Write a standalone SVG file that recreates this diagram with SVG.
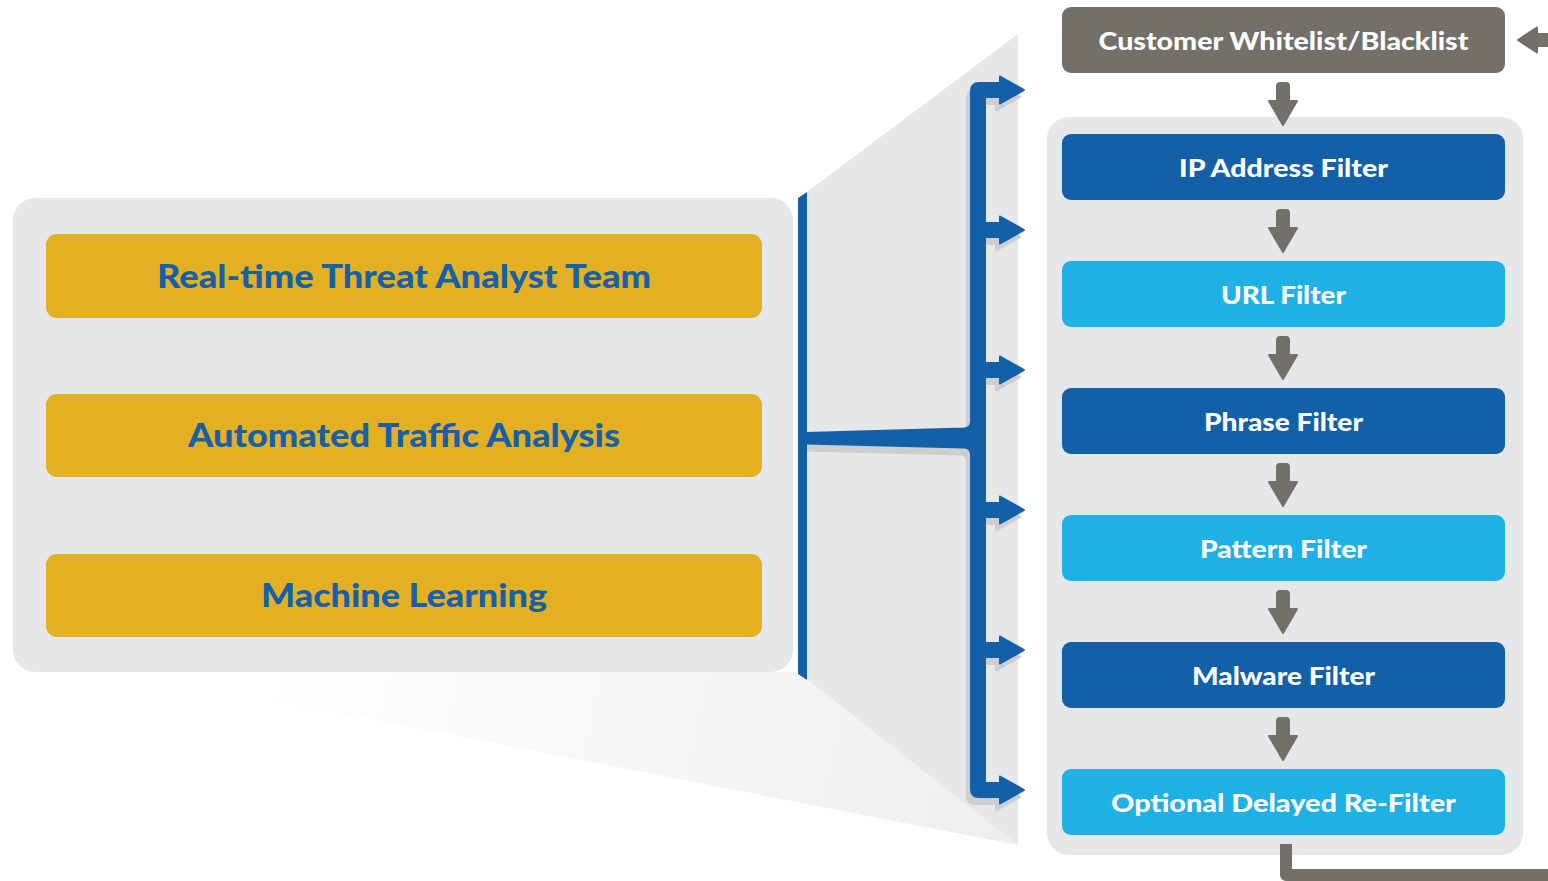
<svg xmlns="http://www.w3.org/2000/svg" xmlns:xlink="http://www.w3.org/1999/xlink" width="1548" height="881" viewBox="0 0 1548 881">
<style>
.panel{fill:#E6E7E9}
.gold{fill:#E4B023}
.dark{fill:#1360A9}
.light{fill:#1FB1E6}
.greybox{fill:#736F69}
.gtxt{font-family:Lato,"Open Sans","Liberation Sans",sans-serif;font-weight:900;font-size:32px;fill:#1560A9;text-anchor:middle}
.wtxt{font-family:Lato,"Open Sans","Liberation Sans",sans-serif;font-weight:900;font-size:25.5px;fill:#FFFFFF;text-anchor:middle}
.garrow{fill:#736F69;stroke:#736F69;stroke-width:2;stroke-linejoin:round}
</style>
<defs>
<linearGradient id="wedge" gradientUnits="userSpaceOnUse" x1="250" y1="672" x2="1018" y2="845">
<stop offset="0" stop-color="#FFFFFF"/>
<stop offset="1" stop-color="#EDEEEE"/>
</linearGradient>
<g id="bracketShape">
<path d="M979,83 H1001 V97 H985 V223 H1001 V237 H985 V363 H1001 V377 H985 V503 H1001 V517 H985 V643 H1001 V657 H985 V783 H1001 V797 H979 Q971,797 971,789 V91 Q971,83 979,83 Z"/>
<path d="M806,433 L964,428.5 Q971,428 971,421 L971,455 Q971,447.5 964,447.5 L806,443.5 Z"/>
<polygon points="1000,76.5 1024,90 1000,103.5"/>
<polygon points="1000,216.5 1024,230 1000,243.5"/>
<polygon points="1000,356.5 1024,370 1000,383.5"/>
<polygon points="1000,496.5 1024,510 1000,523.5"/>
<polygon points="1000,636.5 1024,650 1000,663.5"/>
<polygon points="1000,776.5 1024,790 1000,803.5"/>
</g>
<path id="downArrow" d="M1277,13 Q1277,10 1280,10 H1286 Q1289,10 1289,13 V28 H1297 L1283,52 L1269,28 H1277 Z"/>
</defs>

<g id="backdrop">
<polygon points="130,672 805,672 1018,845" fill="url(#wedge)"/>
<polygon points="807,192 1018,34 1018,845 807,679" class="panel"/>
<rect x="1047" y="117" width="476" height="738" rx="22" class="panel"/>
</g>

<g id="left-panel">
<rect x="13" y="198" width="780" height="474" rx="22" class="panel"/>
</g>

<g id="node-realtime">
<rect x="46" y="234" width="716" height="84" rx="11" class="gold"/>
<text x="404" y="288" class="gtxt" textLength="494" lengthAdjust="spacingAndGlyphs">Real-time Threat Analyst Team</text>
</g>
<g id="node-automated">
<rect x="46" y="394" width="716" height="83" rx="11" class="gold"/>
<text x="404" y="447" class="gtxt" textLength="432" lengthAdjust="spacingAndGlyphs">Automated Traffic Analysis</text>
</g>
<g id="node-ml">
<rect x="46" y="554" width="716" height="83" rx="11" class="gold"/>
<text x="404" y="607" class="gtxt" textLength="286" lengthAdjust="spacingAndGlyphs">Machine Learning</text>
</g>

<g id="connectors">
<use xlink:href="#bracketShape" href="#bracketShape" transform="translate(-4,7)" fill="#CDCED0" stroke="#CDCED0" stroke-width="2" stroke-linejoin="round"/>
<use xlink:href="#bracketShape" href="#bracketShape" fill="#1360A9" stroke="#1360A9" stroke-width="2" stroke-linejoin="round"/>
<polygon points="798,198 807,192 807,680 798,674" fill="#1360A9"/>
<use xlink:href="#downArrow" href="#downArrow" class="garrow" transform="translate(0,73)"/>
<use xlink:href="#downArrow" href="#downArrow" class="garrow" transform="translate(0,200)"/>
<use xlink:href="#downArrow" href="#downArrow" class="garrow" transform="translate(0,327)"/>
<use xlink:href="#downArrow" href="#downArrow" class="garrow" transform="translate(0,454)"/>
<use xlink:href="#downArrow" href="#downArrow" class="garrow" transform="translate(0,581)"/>
<use xlink:href="#downArrow" href="#downArrow" class="garrow" transform="translate(0,708)"/>
<path d="M1552,34 H1537 V27.5 L1518,40 L1537,52.5 V46 H1552 Z" class="garrow"/>
<path d="M1286,844 V875 H1560" fill="none" stroke="#736F69" stroke-width="12" stroke-linejoin="round"/>
</g>

<g id="node-customer">
<rect x="1062" y="7" width="443" height="66" rx="9" class="greybox"/>
<text x="1283.5" y="49.5" class="wtxt" textLength="370" lengthAdjust="spacingAndGlyphs">Customer Whitelist/Blacklist</text>
</g>
<g id="node-ip">
<rect x="1062" y="134" width="443" height="66" rx="9" class="dark"/>
<text x="1283.5" y="176.5" class="wtxt" textLength="209" lengthAdjust="spacingAndGlyphs">IP Address Filter</text>
</g>
<g id="node-url">
<rect x="1062" y="261" width="443" height="66" rx="9" class="light"/>
<text x="1283.5" y="303.5" class="wtxt" textLength="125" lengthAdjust="spacingAndGlyphs">URL Filter</text>
</g>
<g id="node-phrase">
<rect x="1062" y="388" width="443" height="66" rx="9" class="dark"/>
<text x="1283.5" y="430.5" class="wtxt" textLength="159" lengthAdjust="spacingAndGlyphs">Phrase Filter</text>
</g>
<g id="node-pattern">
<rect x="1062" y="515" width="443" height="66" rx="9" class="light"/>
<text x="1283.5" y="557.5" class="wtxt" textLength="167" lengthAdjust="spacingAndGlyphs">Pattern Filter</text>
</g>
<g id="node-malware">
<rect x="1062" y="642" width="443" height="66" rx="9" class="dark"/>
<text x="1283.5" y="684.5" class="wtxt" textLength="183" lengthAdjust="spacingAndGlyphs">Malware Filter</text>
</g>
<g id="node-optional">
<rect x="1062" y="769" width="443" height="66" rx="9" class="light"/>
<text x="1283.5" y="811.5" class="wtxt" textLength="345" lengthAdjust="spacingAndGlyphs">Optional Delayed Re-Filter</text>
</g>
</svg>
